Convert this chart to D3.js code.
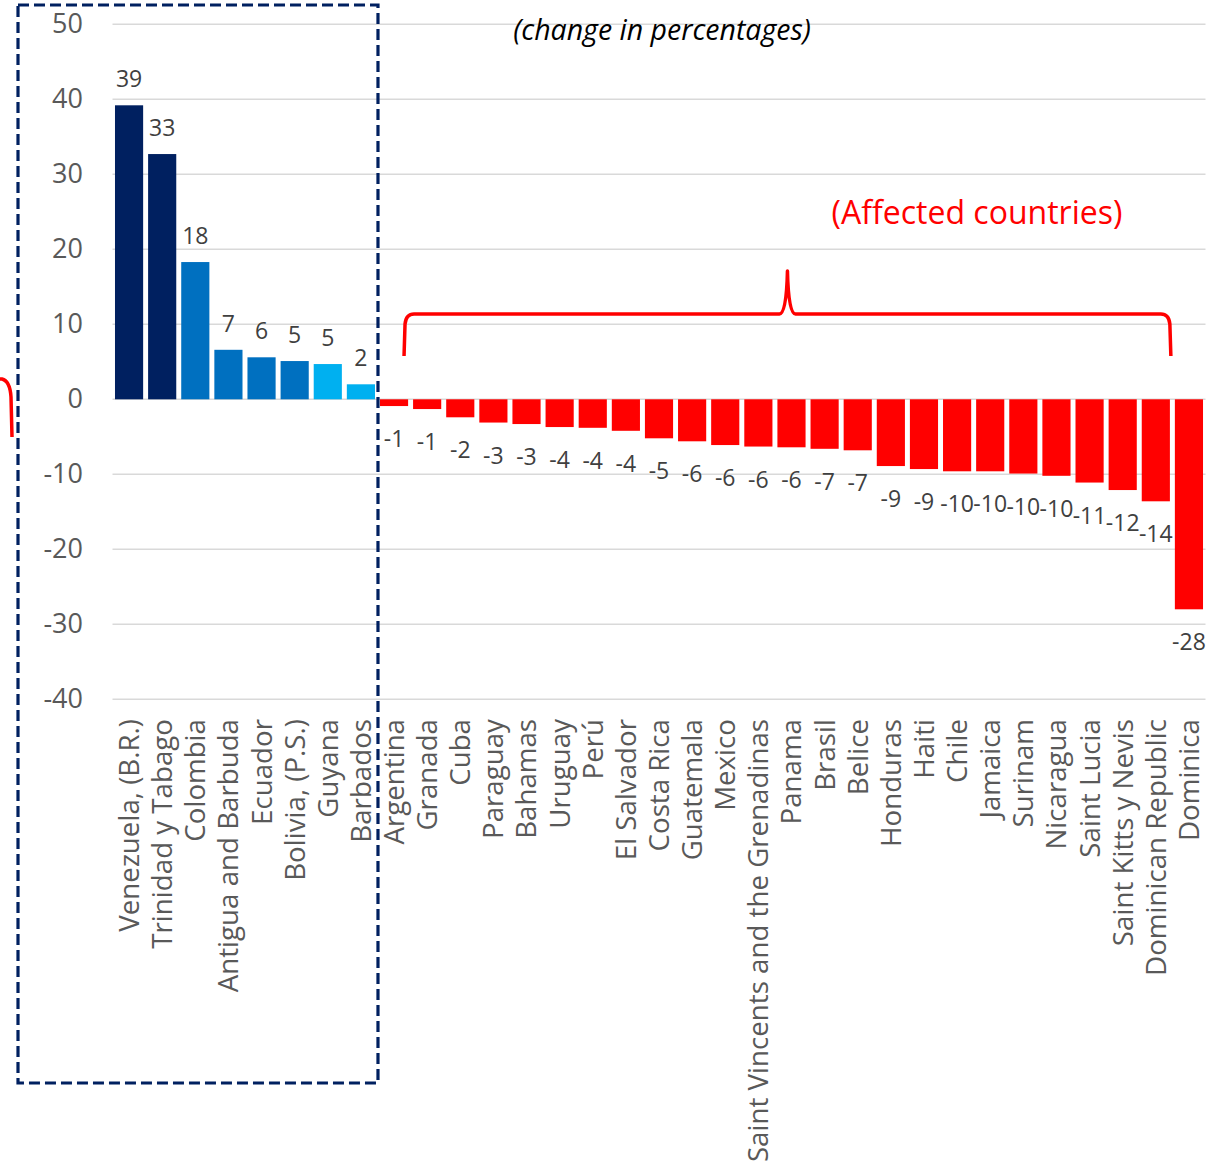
<!DOCTYPE html>
<html>
<head>
<meta charset="utf-8">
<script src="https://cdn.jsdelivr.net/npm/d3@7"></script>
<style>
  html, body { margin: 0; padding: 0; background: #fff; }
  svg { display: block; font-family: "Open Sans", "Noto Sans", sans-serif; }
</style>
</head>
<body>
<svg id="chart" width="1221" height="1167"></svg>
<script>
// Countries, ordered from largest gain to largest loss
const countries = [
  "Venezuela, (B.R.)", "Trinidad y Tabago", "Colombia", "Antigua and Barbuda",
  "Ecuador", "Bolivia, (P.S.)", "Guyana", "Barbados",
  "Argentina", "Granada", "Cuba", "Paraguay", "Bahamas", "Uruguay", "Perú",
  "El Salvador", "Costa Rica", "Guatemala", "Mexico",
  "Saint Vincents and the Grenadinas", "Panama", "Brasil", "Belice", "Honduras",
  "Haiti", "Chile", "Jamaica", "Surinam", "Nicaragua", "Saint Lucia",
  "Saint Kitts y Nevis", "Dominican Republic", "Dominica"
];

// Change in percentages
const changes = [
  39.2, 32.7, 18.3, 6.6, 5.6, 5.1, 4.7, 2.0,
  -0.9, -1.3, -2.4, -3.1, -3.3, -3.7, -3.8,
  -4.2, -5.2, -5.6, -6.1,
  -6.3, -6.4, -6.6, -6.8, -8.9,
  -9.3, -9.6, -9.6, -9.9, -10.2, -11.1,
  -12.1, -13.6, -28.0
];

// Colour group of each bar
const groups = [
  "high", "high", "mid", "mid", "mid", "mid", "low", "low",
  "neg", "neg", "neg", "neg", "neg", "neg", "neg", "neg", "neg", "neg", "neg",
  "neg", "neg", "neg", "neg", "neg", "neg", "neg", "neg", "neg", "neg", "neg",
  "neg", "neg", "neg"
];

const yTicks = [50, 40, 30, 20, 10, 0, -10, -20, -30, -40];
const subtitle = "(change in percentages)";
const affectedLabel = "(Affected countries)";

const colors = { high: "#002060", mid: "#0070C0", low: "#00B0F0", neg: "#FF0000" };

const data = countries.map((c, i) => ({ country: c, value: changes[i], group: groups[i] }));

const svg = d3.select("#chart");

const x = d3.scaleBand()
  .domain(countries)
  .range([112.5, 1205.5])
  .paddingInner(0.15)
  .paddingOuter(0.075);

const y = d3.scaleLinear()
  .domain([-40, 50])
  .range([699.3, 24.3]);

// Horizontal gridlines
svg.append("g")
  .selectAll("line")
  .data(yTicks)
  .join("line")
  .attr("x1", 112.5)
  .attr("x2", 1205.5)
  .attr("y1", d => y(d))
  .attr("y2", d => y(d))
  .attr("stroke", "#d9d9d9")
  .attr("stroke-width", 1.5);

// Value axis labels
const yAxis = d3.axisLeft(y).tickValues(yTicks).tickSize(0).tickPadding(0)
  .tickFormat(d => String(d));
svg.append("g")
  .attr("transform", "translate(83,0)")
  .call(yAxis)
  .call(g => g.select(".domain").remove())
  .call(g => g.selectAll("text")
    .attr("font-family", "'Open Sans', sans-serif")
    .attr("font-size", 27)
    .attr("fill", "#595959"));

// Bars
svg.append("g")
  .selectAll("rect")
  .data(data)
  .join("rect")
  .attr("x", d => x(d.country))
  .attr("width", x.bandwidth())
  .attr("y", d => y(Math.max(0, d.value)))
  .attr("height", d => Math.abs(y(d.value) - y(0)))
  .attr("fill", d => colors[d.group]);

// Data labels
svg.append("g")
  .selectAll("text")
  .data(data)
  .join("text")
  .attr("x", d => x(d.country) + x.bandwidth() / 2)
  .attr("y", d => d.value >= 0 ? y(d.value) - 18 : y(d.value) + 41)
  .attr("text-anchor", "middle")
  .attr("font-size", 23)
  .attr("fill", "#404040")
  .text(d => d.value.toFixed(0));

// Category labels, rotated
svg.append("g")
  .selectAll("text")
  .data(countries)
  .join("text")
  .attr("transform", d => `translate(${x(d) + x.bandwidth() / 2},719) rotate(-90)`)
  .attr("dy", "0.36em")
  .attr("text-anchor", "end")
  .attr("font-size", 27.7)
  .attr("fill", "#595959")
  .text(d => d);

// Subtitle
svg.append("text")
  .attr("x", 662)
  .attr("y", 40)
  .attr("text-anchor", "middle")
  .attr("font-size", 28.5)
  .attr("font-style", "italic")
  .attr("fill", "#000")
  .text(subtitle);

// Dashed frame around the countries with gains
const posCountries = data.filter(d => d.value > 0).map(d => d.country);
const frameRight = x(posCountries[posCountries.length - 1]) + x.bandwidth() + 3;
svg.append("rect")
  .attr("x", 18)
  .attr("y", 5)
  .attr("width", frameRight - 18)
  .attr("height", 1078)
  .attr("fill", "none")
  .attr("stroke", "#002060")
  .attr("stroke-width", 3.2)
  .attr("stroke-dasharray", "11 5");

// Brace over the countries with losses
const negCountries = data.filter(d => d.value < 0).map(d => d.country);
const bx0 = x(negCountries[0]) + x.bandwidth() / 2 + 10;
const bx1 = x(negCountries[negCountries.length - 1]) - 4;
const bmid = (bx0 + bx1) / 2;
const by = 314, bEnd = 356, bPeak = 271;
const bracePath = d3.path();
bracePath.moveTo(bx0, bEnd);
bracePath.lineTo(bx0 + 1, by + 10);
bracePath.quadraticCurveTo(bx0 + 2, by, bx0 + 10, by);
bracePath.lineTo(bmid - 8, by);
bracePath.quadraticCurveTo(bmid - 1, by, bmid, bPeak);
bracePath.quadraticCurveTo(bmid + 1, by, bmid + 8, by);
bracePath.lineTo(bx1 - 10, by);
bracePath.quadraticCurveTo(bx1 - 2, by, bx1 - 1, by + 10);
bracePath.lineTo(bx1, bEnd);
svg.append("path")
  .attr("d", bracePath.toString())
  .attr("fill", "none")
  .attr("stroke", "#FF0000")
  .attr("stroke-width", 3.5)
  .attr("stroke-linejoin", "round");

svg.append("text")
  .attr("x", 977)
  .attr("y", 224)
  .attr("text-anchor", "middle")
  .attr("font-size", 32)
  .attr("fill", "#FF0000")
  .text(affectedLabel);

// End of a brace reaching in from the left edge
const leftBrace = d3.path();
leftBrace.moveTo(-4, 379);
leftBrace.lineTo(2, 379);
leftBrace.quadraticCurveTo(10, 381, 11, 397);
leftBrace.lineTo(12, 437);
svg.append("path")
  .attr("d", leftBrace.toString())
  .attr("fill", "none")
  .attr("stroke", "#FF0000")
  .attr("stroke-width", 3.5);
</script>
</body>
</html>
